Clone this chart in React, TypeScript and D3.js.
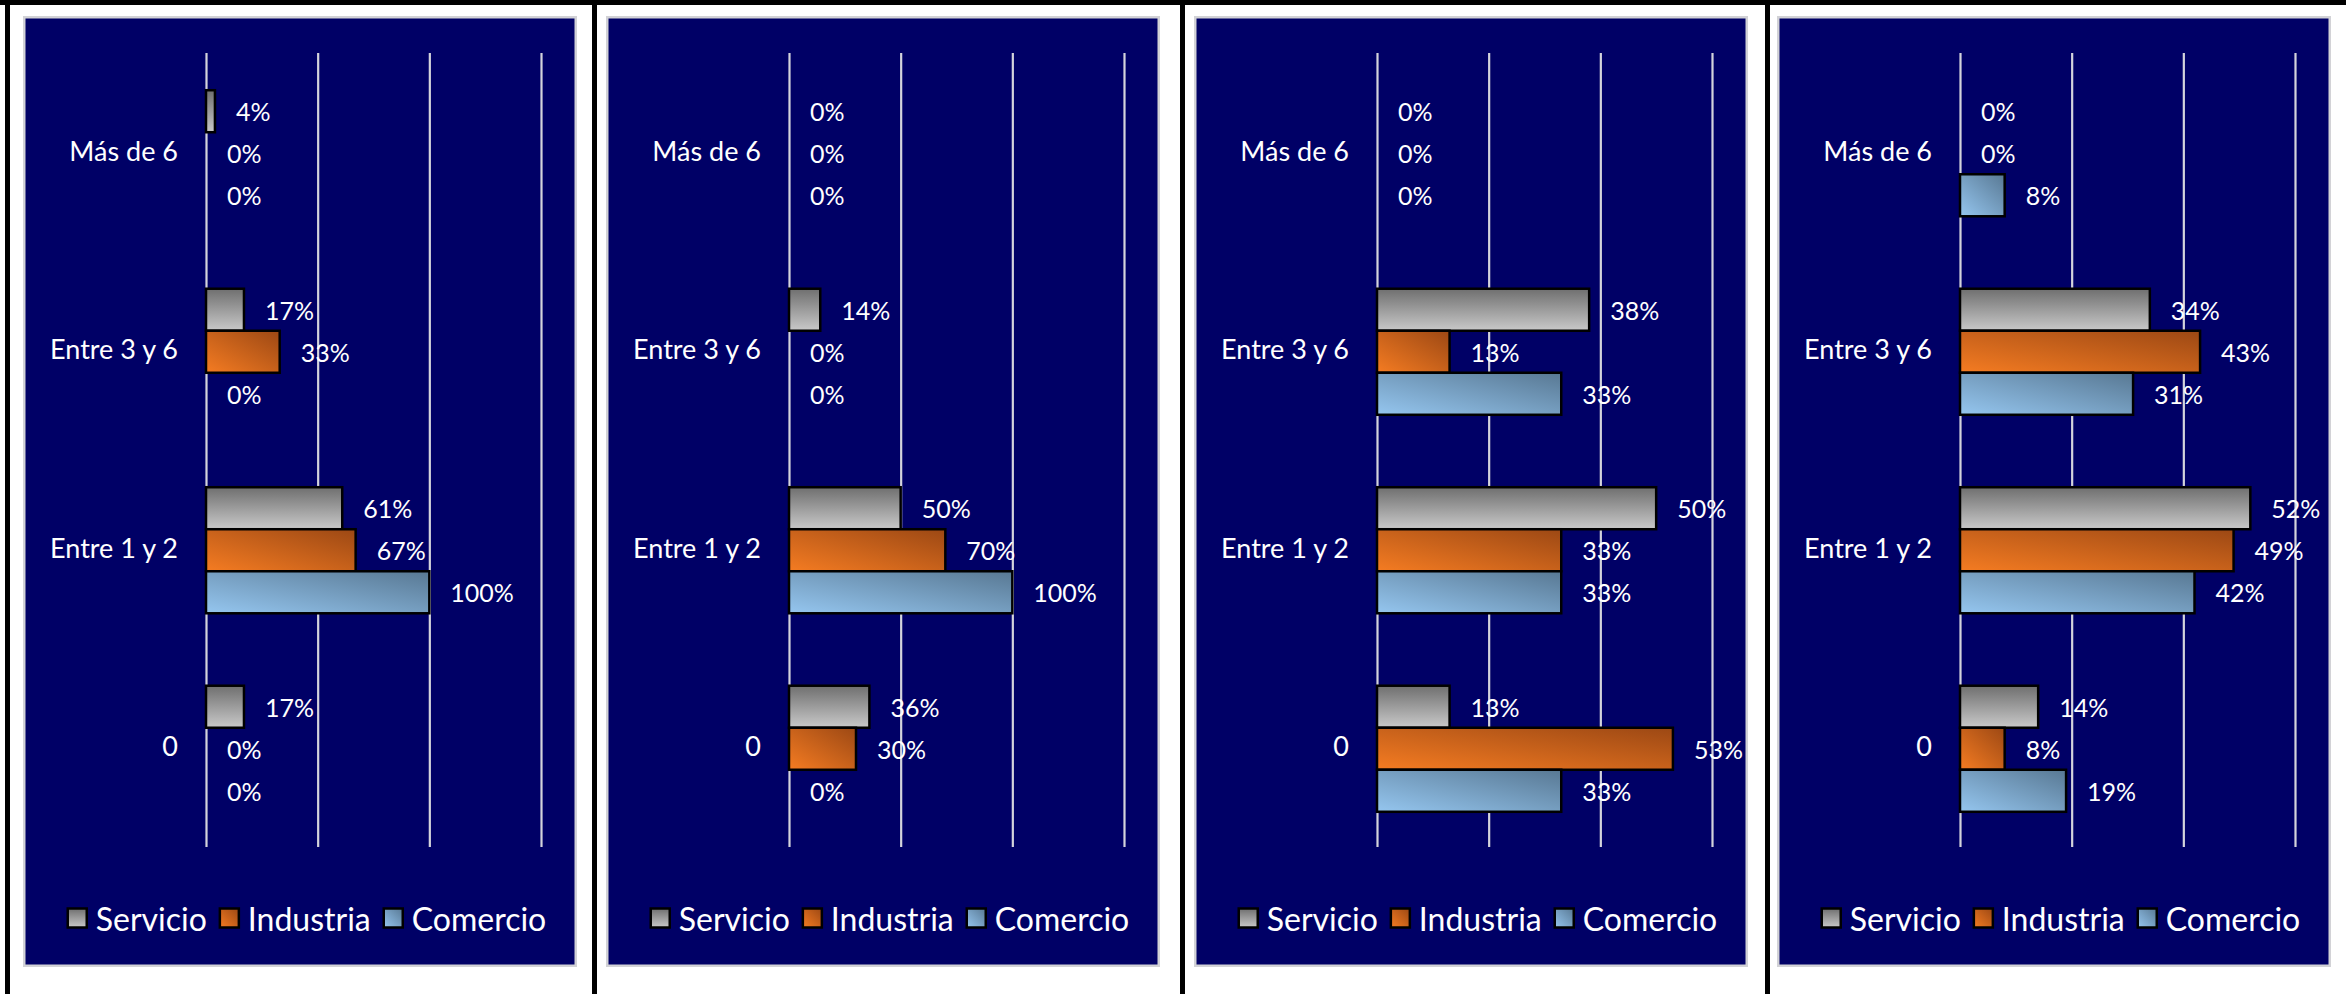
import { useEffect, useRef } from "react";
import * as d3 from "d3";

const categories = ["Más de 6", "Entre 3 y 6", "Entre 1 y 2", "0"];
const seriesNames = ["Servicio", "Industria", "Comercio"];

// one row per panel, values in category order
const servicio = [
  [4, 17, 61, 17],
  [0, 14, 50, 36],
  [0, 38, 50, 13],
  [0, 34, 52, 14]
];
const industria = [
  [0, 33, 67, 0],
  [0, 0, 70, 30],
  [0, 13, 33, 53],
  [0, 43, 49, 8]
];
const comercio = [
  [0, 0, 100, 0],
  [0, 0, 100, 0],
  [0, 33, 33, 33],
  [8, 31, 42, 19]
];
const axisMax = [150, 150, 60, 60];
const tickStep = [50, 50, 20, 20];

const W = 2346;
const H = 994;
const chartLeft = [23, 606, 1194, 1777];
const chartTop = 16;
const chartW = 554;
const chartH = 951;
const dividers = [5, 592, 1180, 1765];
const FONT = "Lato, 'Open Sans', sans-serif";

export default function App() {
  const ref = useRef<SVGSVGElement>(null);

  useEffect(() => {
    const svg = d3.select(ref.current);
    svg.selectAll("*").remove();

    const defs = svg.append("defs");
    const grey = defs.append("linearGradient").attr("id", "g-serv").attr("x1", 0).attr("y1", 0).attr("x2", 0).attr("y2", 1);
    grey.append("stop").attr("offset", "0%").attr("stop-color", "#6f6f6f");
    grey.append("stop").attr("offset", "100%").attr("stop-color", "#c9c9c9");
    const orange = defs.append("linearGradient").attr("id", "g-ind").attr("x1", 0).attr("y1", 1).attr("x2", 1).attr("y2", 0);
    orange.append("stop").attr("offset", "0%").attr("stop-color", "#f57c22");
    orange.append("stop").attr("offset", "100%").attr("stop-color", "#9c4814");
    const blue = defs.append("linearGradient").attr("id", "g-com").attr("x1", 0).attr("y1", 1).attr("x2", 1).attr("y2", 0);
    blue.append("stop").attr("offset", "0%").attr("stop-color", "#95c6ef");
    blue.append("stop").attr("offset", "100%").attr("stop-color", "#587893");
    const fills = ["url(#g-serv)", "url(#g-ind)", "url(#g-com)"];

    svg.append("rect").attr("width", W).attr("height", H).attr("fill", "#ffffff");

    chartLeft.forEach((left, p) => {
      const panelSeries = [servicio[p], industria[p], comercio[p]];
      const g = svg.append("g").attr("transform", `translate(${left},${chartTop})`);

      g.append("rect")
        .attr("x", 1.25)
        .attr("y", 1.25)
        .attr("width", chartW - 2.5)
        .attr("height", chartH - 2.5)
        .attr("fill", "#000066")
        .attr("stroke", "#d2d2d6")
        .attr("stroke-width", 2.5);

      const x = d3.scaleLinear().domain([0, axisMax[p]]).range([183, 518]);
      const y = d3
        .scaleBand<string>()
        .domain(categories)
        .range([37, 831])
        .paddingInner(0.365)
        .paddingOuter(0.1825);
      const ys = d3.scaleBand<string>().domain(seriesNames).range([0, y.bandwidth()]);

      // vertical gridlines
      const grid = g
        .append("g")
        .attr("transform", "translate(0,831)")
        .call(
          d3
            .axisTop(x)
            .tickValues(d3.range(0, axisMax[p] + 1, tickStep[p]))
            .tickSize(794)
            .tickFormat(() => "")
        );
      grid.select(".domain").remove();
      grid.selectAll(".tick line").attr("stroke", "#d4d4dc").attr("stroke-width", 2.2);

      // category labels
      const yAxis = g
        .append("g")
        .attr("transform", "translate(183,0)")
        .call(d3.axisLeft(y).tickSize(0).tickPadding(28));
      yAxis.select(".domain").remove();
      yAxis
        .selectAll("text")
        .attr("fill", "#ffffff")
        .attr("font-family", FONT)
        .attr("font-size", 27);

      panelSeries.forEach((vals, s) => {
        const name = seriesNames[s];
        vals.forEach((v, c) => {
          const top = (y(categories[c]) ?? 0) + (ys(name) ?? 0);
          if (v > 0) {
            g.append("rect")
              .attr("x", x(0))
              .attr("y", top + 1)
              .attr("width", x(v) - x(0))
              .attr("height", ys.bandwidth())
              .attr("fill", fills[s])
              .attr("stroke", "#000000")
              .attr("stroke-width", 2.5);
          }
          g.append("text")
            .attr("x", x(v) + 21)
            .attr("y", top + ys.bandwidth() / 2 + 1)
            .attr("dominant-baseline", "central")
            .attr("fill", "#ffffff")
            .attr("font-family", FONT)
            .attr("font-size", 25)
            .text(`${v}%`);
        });
      });

      // legend
      const legend = g.append("g").attr("transform", `translate(0,${918 - chartTop})`);
      const items = seriesNames.map((name, s) => {
        const item = legend.append("g");
        item
          .append("rect")
          .attr("x", 0)
          .attr("y", -9.5)
          .attr("width", 19)
          .attr("height", 19)
          .attr("fill", fills[s])
          .attr("stroke", "#000000")
          .attr("stroke-width", 2.5);
        const t = item
          .append("text")
          .attr("x", 28)
          .attr("y", 0)
          .attr("dominant-baseline", "central")
          .attr("fill", "#ffffff")
          .attr("font-family", FONT)
          .attr("font-size", 32)
          .text(name);
        const w = 28 + ((t.node() as SVGTextElement).getComputedTextLength?.() ?? 100);
        return { item, w };
      });
      const gap = 13;
      const total = d3.sum(items, (d) => d.w) + gap * (items.length - 1);
      let cx = 284 - total / 2;
      items.forEach(({ item, w }) => {
        item.attr("transform", `translate(${cx},0)`);
        cx += w + gap;
      });
    });

    // table borders
    svg.append("rect").attr("x", 0).attr("y", 0).attr("width", W).attr("height", 5).attr("fill", "#000000");
    dividers.forEach((d) => {
      svg.append("rect").attr("x", d).attr("y", 0).attr("width", 5).attr("height", H).attr("fill", "#000000");
    });
  }, []);

  return (
    <svg
      ref={ref}
      width={W}
      height={H}
      viewBox={`0 0 ${W} ${H}`}
      style={{ position: "absolute", left: 0, top: 0, display: "block" }}
    />
  );
}
